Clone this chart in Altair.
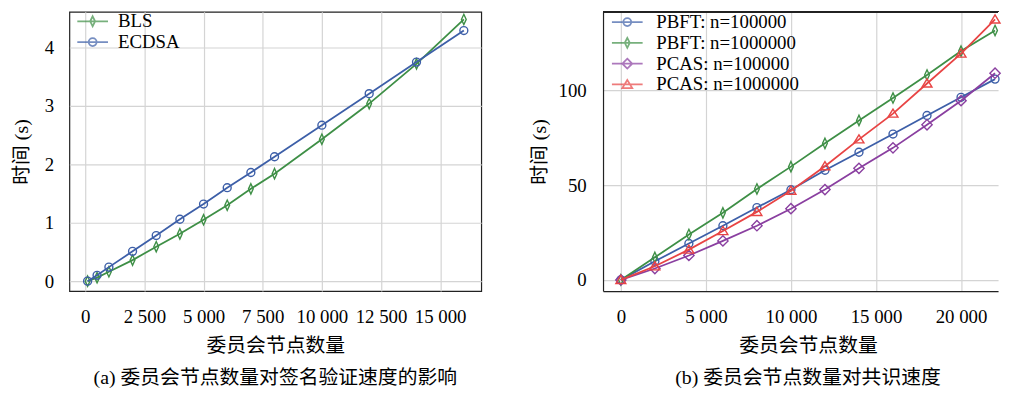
import altair as alt
import pandas as pd

# ---------- data ----------
# panel (a)
a_nodes = [100, 500, 1000, 2000, 3000, 4000, 5000, 6000, 7000, 8000, 10000, 12000, 14000, 16000]
a_bls = [0.0, 0.06, 0.16, 0.36, 0.59, 0.81, 1.05, 1.30, 1.58, 1.84, 2.43, 3.04, 3.72, 4.48]
a_ecdsa = [0.0, 0.10, 0.24, 0.51, 0.78, 1.06, 1.32, 1.60, 1.86, 2.13, 2.67, 3.21, 3.75, 4.29]
a_names = ["BLS", "ECDSA"]
a_xticks = [0, 2500, 5000, 7500, 10000, 12500, 15000]
a_yticks = [0, 1, 2, 3, 4]

# panel (b)
b_nodes = [0, 2000, 4000, 6000, 8000, 10000, 12000, 14000, 16000, 18000, 20000, 22000]
b_pbft_1e5 = [0, 9.8, 19.2, 28.6, 38.2, 47.6, 57.9, 67.4, 77.0, 86.8, 96.4, 106.0]
b_pbft_1e6 = [0, 11.9, 24.0, 35.4, 48.0, 59.8, 72.1, 84.2, 96.0, 108.2, 120.8, 131.7]
b_pcas_1e5 = [0, 6.0, 12.9, 20.6, 28.6, 37.6, 47.7, 58.9, 69.7, 81.9, 94.6, 109.1]
b_pcas_1e6 = [0, 7.2, 16.0, 25.8, 35.9, 47.1, 60.0, 74.2, 87.8, 103.7, 119.5, 137.5]
b_names = ["PBFT: n=100000", "PBFT: n=1000000", "PCAS: n=100000", "PCAS: n=1000000"]
b_xticks = [0, 5000, 10000, 15000, 20000]
b_yticks = [0, 50, 100]

x_title = "委员会节点数量"
y_title = "时间 (s)"
cap_a = "(a) 委员会节点数量对签名验证速度的影响"
cap_b = "(b) 委员会节点数量对共识速度"

# ---------- styling ----------
FONT = "Liberation Serif, Noto Sans CJK SC"
BLUE, GREEN, PURPLE, RED = "#3d5fa8", "#3e8f46", "#8a3fa0", "#e84444"
FRAME = "#222222"
LW = 1.8

M_CIRCLE = "M1,0A1,1 0 1,1 -1,0A1,1 0 1,1 1,0Z"
M_THIN = "M0,-1.3L0.6,0L0,1.3L-0.6,0Z"
M_DIAM = "M0,-1.3L1.3,0L0,1.3L-1.3,0Z"
M_TRI = "M0,-1.15L1.25,0.9L-1.25,0.9Z"

L_CIRCLE = "M-3.1,0H3.1M0.8,0A0.8,0.8 0 1,1 -0.8,0A0.8,0.8 0 1,1 0.8,0"
L_THIN = "M-3.1,0H3.1M0,-1L0.5,0L0,1L-0.5,0Z"
L_DIAM = "M-3.1,0H3.1M0,-1L1,0L0,1L-1,0Z"
L_TRI = "M-3.1,0H3.1M0,-0.9L1,0.75L-1,0.75Z"

LABEL_EXPR = "replace(format(datum.value, ','), ',', ' ')"


def long_df(nodes, series_values, names):
    rows = []
    for name, vals in zip(names, series_values):
        for n, t in zip(nodes, vals):
            rows.append({"n": n, "t": t, "series": name})
    return pd.DataFrame(rows)


def panel(df, names, colors, mpaths, lpaths, xdom, ydom, xticks, yticks,
          width, caption, y_title_x, y_lab_pad, legend_x, legend_y,
          row_pad, label_offset, boxed, x_title_x, cap_dx):
    xs = alt.Scale(domain=xdom, nice=False, zero=False)
    ys = alt.Scale(domain=ydom, nice=False, zero=False)
    x_axis = alt.Axis(values=xticks, labelExpr=LABEL_EXPR, title=x_title,
                      grid=True, ticks=False, tickSize=0, domain=not boxed,
                      labelPadding=17, titleY=55, titleX=x_title_x,
                      titleBaseline="middle")
    y_axis = alt.Axis(values=yticks, format="d", title=y_title, grid=True,
                      ticks=False, tickSize=0, domain=not boxed,
                      labelPadding=y_lab_pad, titleX=y_title_x,
                      titleBaseline="middle", titleAngle=-90)
    X = alt.X("n:Q", scale=xs, axis=x_axis)
    Y = alt.Y("t:Q", scale=ys, axis=y_axis)
    layers = []
    for name, c, mp in zip(names, colors, mpaths):
        sub = alt.Chart(df).transform_filter(alt.datum.series == name)
        line = sub.mark_line(color=c, strokeWidth=LW).encode(x=X, y=Y, order="n:Q")
        pts = sub.mark_point(shape=mp, filled=False, color=c, size=64,
                             strokeWidth=1.4, opacity=1).encode(x=X, y=Y)
        layers += [line, pts]

    leg = alt.Legend(orient="none", legendX=legend_x, legendY=legend_y,
                     title=None, labelFont=FONT, labelFontSize=19,
                     labelColor="black", symbolSize=100,
                     symbolStrokeWidth=LW, labelOffset=label_offset,
                     rowPadding=row_pad, padding=0, labelLimit=400,
                     symbolFillColor="transparent")
    legend_layer = alt.Chart(df).transform_filter("false").mark_point(
        filled=False, strokeWidth=LW, size=100).encode(
        x=X, y=Y,
        shape=alt.Shape("series:N", scale=alt.Scale(domain=names, range=lpaths), legend=leg),
        color=alt.Color("series:N", scale=alt.Scale(domain=names, range=colors), legend=leg),
    )
    layers.append(legend_layer)

    if not boxed:
        # top edge of the open frame (decoration, not data)
        top_edge = alt.Chart(df).mark_rule(color=FRAME, strokeWidth=1.2).encode(
            x=alt.value(0), x2=alt.value(width), y=alt.value(0))
        layers.append(top_edge)

    ch = alt.layer(*layers).properties(
        width=width, height=282,
        title=alt.TitleParams(caption, orient="bottom", anchor="middle",
                              fontSize=20, fontWeight="normal", font=FONT,
                              color="black", offset=13, dx=cap_dx),
    )
    if not boxed:
        ch = ch.properties(view=alt.ViewBackground(stroke="transparent"))
    return ch


df_a = long_df(a_nodes, [a_bls, a_ecdsa], a_names)
df_b = long_df(b_nodes, [b_pbft_1e5, b_pbft_1e6, b_pcas_1e5, b_pcas_1e6], b_names)

left = panel(df_a, a_names, [GREEN, BLUE], [M_THIN, M_CIRCLE], [L_THIN, L_CIRCLE],
             [-670, 16736], [-0.17, 4.61], a_xticks, a_yticks, 416, cap_a,
             -48.5, 16, 14, 0, 1, 16, True, 208, 0)
right = panel(df_b, b_names, [BLUE, GREEN, PURPLE, RED],
              [M_CIRCLE, M_THIN, M_DIAM, M_TRI], [L_CIRCLE, L_THIN, L_DIAM, L_TRI],
              [-1048, 22177], [-5.9, 141.5], b_xticks, b_yticks, 399, cap_b,
              -64, 17, 15, 0.8, 1, 19.7, False, 207, 7.5)

chart = alt.hconcat(left, right, spacing=47).resolve_scale(
    color="independent", shape="independent"
).resolve_legend(
    color="independent", shape="independent"
).properties(
    padding={"left": 2, "top": 0, "right": 0, "bottom": -2}
).configure(font=FONT).configure_view(
    stroke=FRAME, strokeWidth=1.2
).configure_axis(
    labelFont=FONT, titleFont=FONT, labelFontSize=19, titleFontSize=20,
    labelColor="black", titleColor="black", titleFontWeight="normal",
    gridColor="#d4d4d4", gridWidth=1.2, domainColor=FRAME, domainWidth=1.2,
)

chart.save("out.html", embed_options={"renderer": "svg", "actions": False})
